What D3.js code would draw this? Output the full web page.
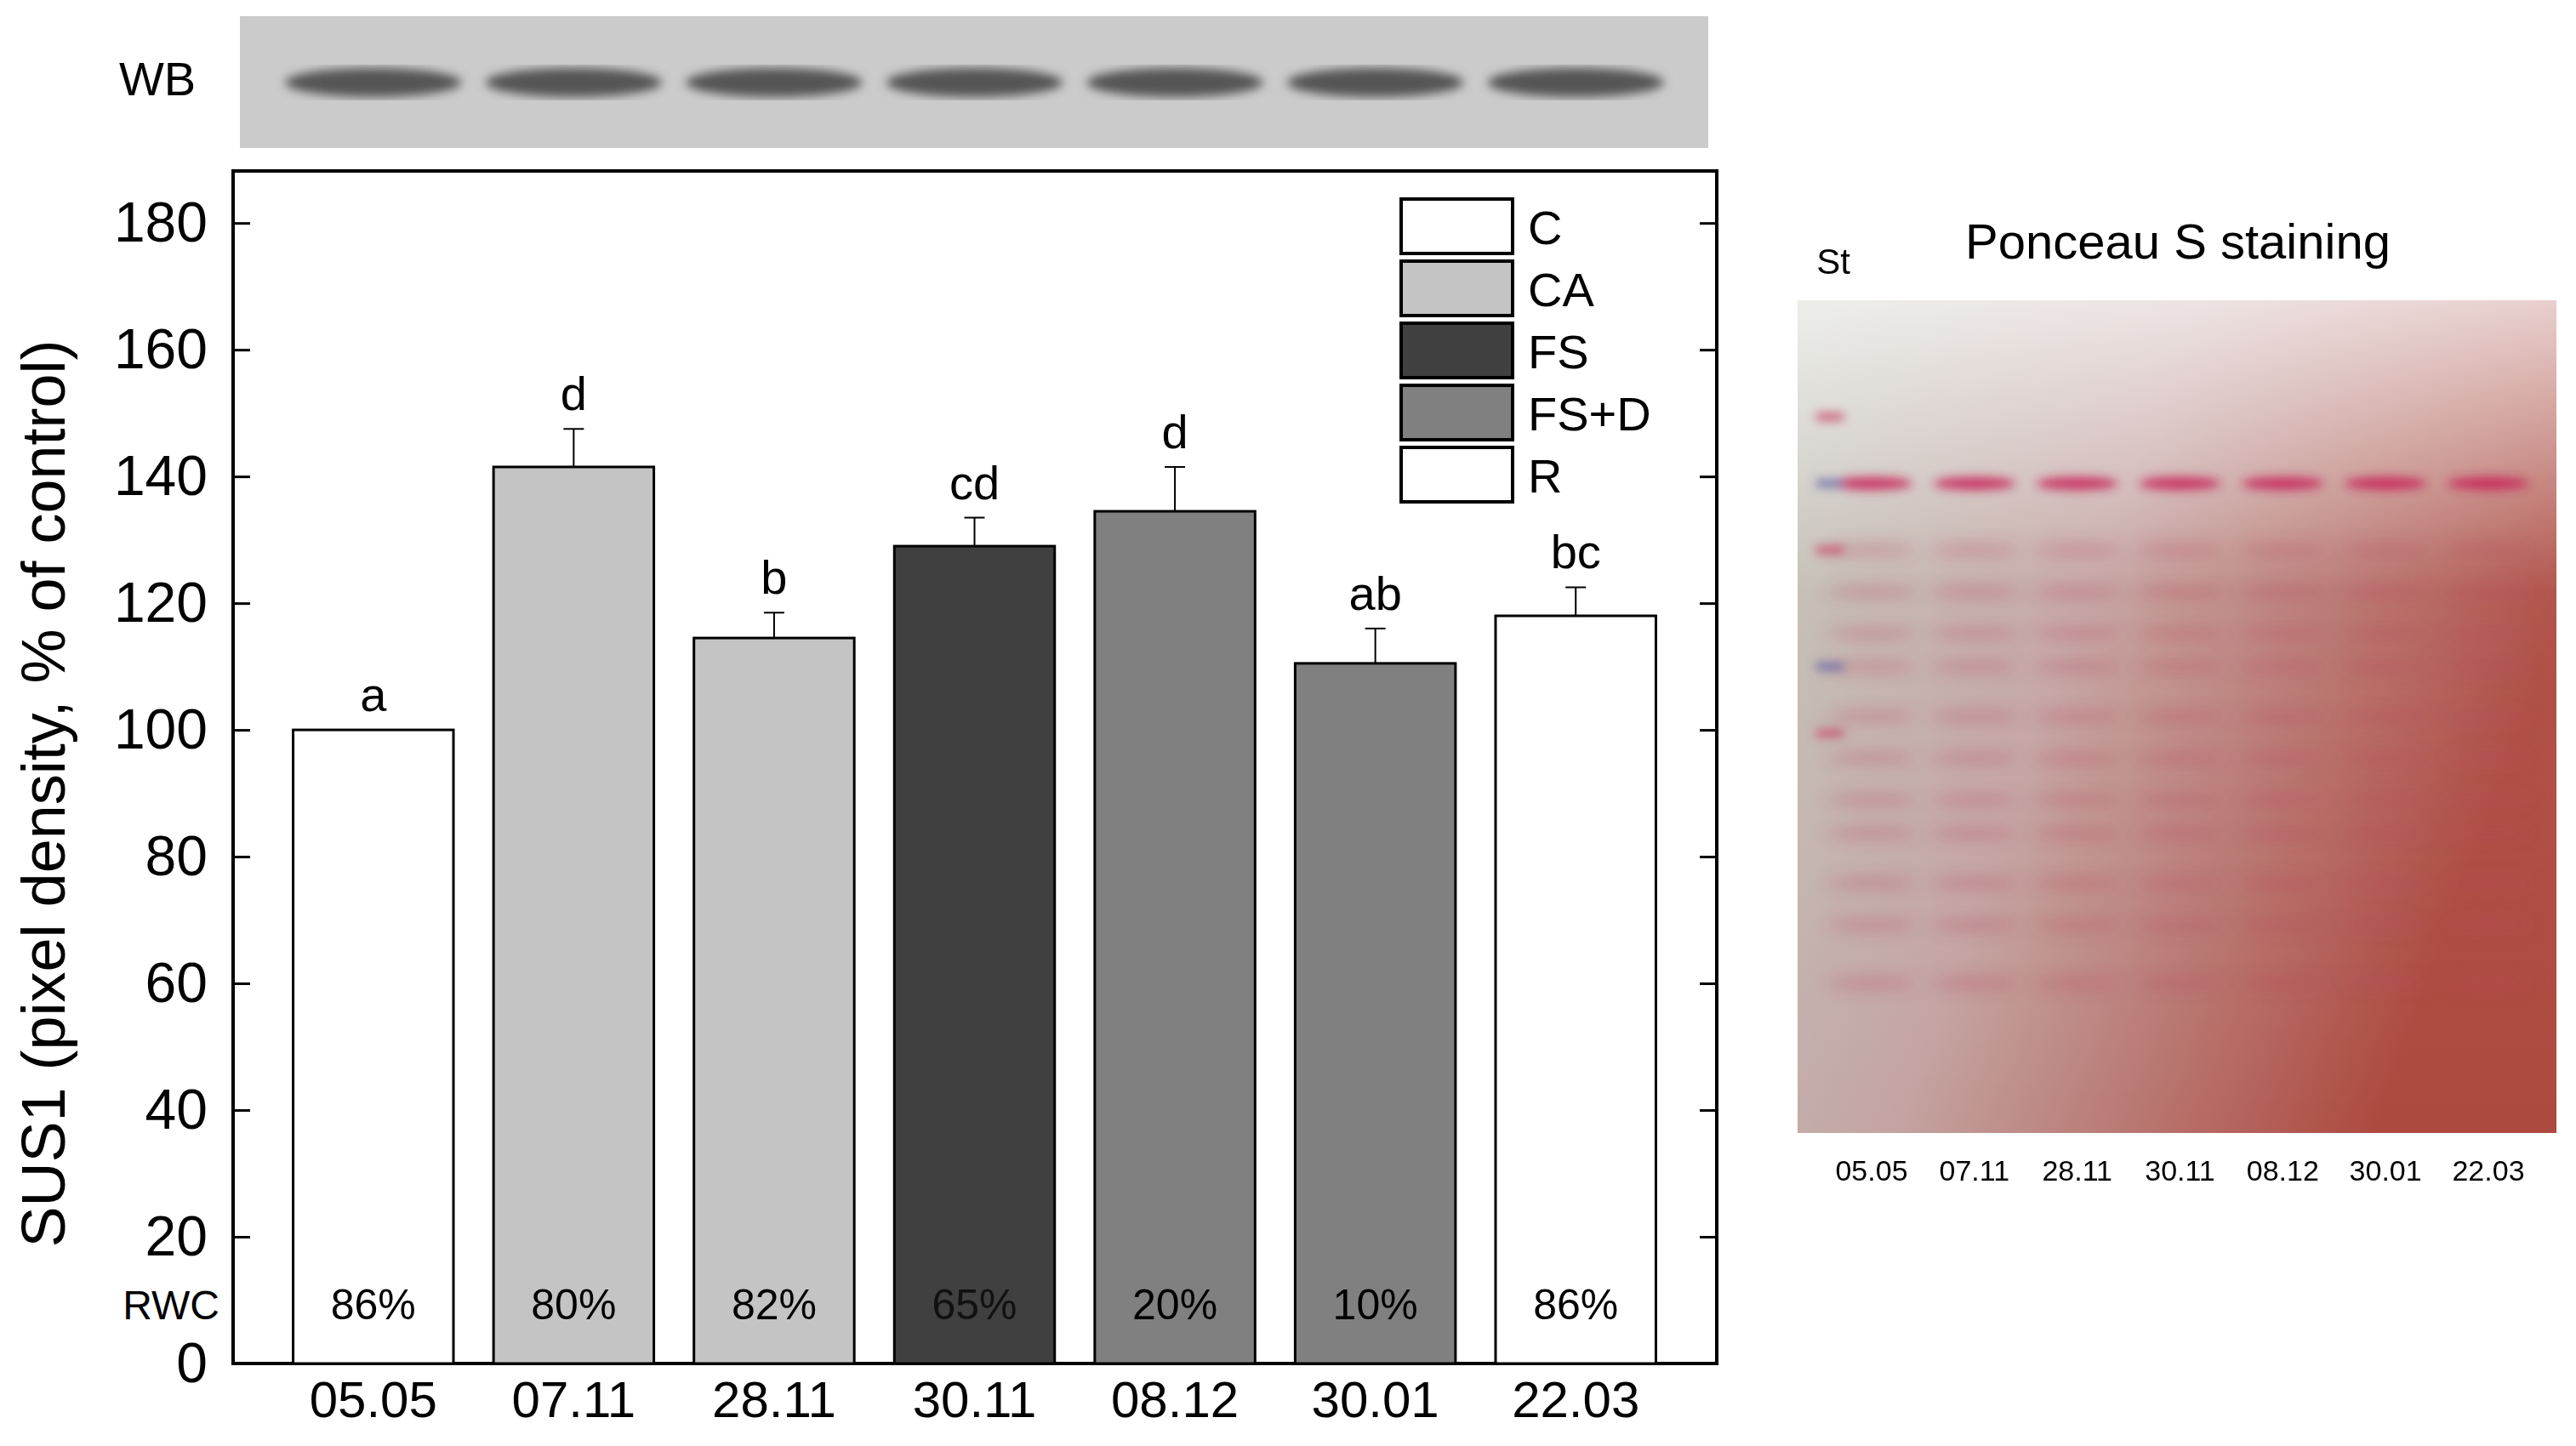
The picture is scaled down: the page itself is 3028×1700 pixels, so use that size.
<!DOCTYPE html>
<html><head><meta charset="utf-8">
<script src="https://cdn.jsdelivr.net/npm/d3@7"></script>
<style>body{margin:0;background:#fff}</style></head>
<body><svg id="c" width="3028" height="1700"></svg>
<script>
const categories = ["05.05","07.11","28.11","30.11","08.12","30.01","22.03"];
const values = [100,141.5,114.5,129,134.5,110.5,118];
const errors = [0,6,4,4.5,7,5.5,4.5];
const groups = ["C","CA","CA","FS","FS+D","FS+D","R"];
const letters = ["a","d","b","cd","d","ab","bc"];
const rwc = ["86%","80%","82%","65%","20%","10%","86%"];
const legendNames = ["C","CA","FS","FS+D","R"];
const legendColors = ["#ffffff","#c4c4c4","#404040","#808080","#ffffff"];
const yTicks = [0,20,40,60,80,100,120,140,160,180];

const svg = d3.select("#c");
const F = "Arial, 'Liberation Sans', sans-serif";
const L=274,R=2018,T=201,B=1603;
const x = d3.scaleBand().domain(categories).range([321,1970]).paddingInner(0.2).paddingOuter(0.1);
const y = d3.scaleLinear().domain([0,181.5]).range([B,T+50]);
const color = d3.scaleOrdinal().domain(legendNames).range(legendColors);
const defs = svg.append("defs");
defs.append("filter").attr("id","blur").append("feGaussianBlur").attr("stdDeviation",6);
defs.append("filter").attr("id","blur2").append("feGaussianBlur").attr("stdDeviation",9);

// WB strip
svg.append("rect").attr("x",282).attr("y",19).attr("width",1726).attr("height",155).attr("fill","#cbcbcb");
svg.append("g").attr("filter","url(#blur)").selectAll("ellipse").data(categories).join("ellipse")
 .attr("cx",d=>x(d)+x.bandwidth()/2).attr("cy",97).attr("rx",x.bandwidth()*0.55).attr("ry",17).attr("fill","#555");
svg.append("text").attr("x",185).attr("y",112).attr("text-anchor","middle").attr("font-family",F).attr("font-size",56).text("WB");

// frame
svg.append("rect").attr("x",L).attr("y",T).attr("width",R-L).attr("height",B-T).attr("fill","none").attr("stroke","#000").attr("stroke-width",4);

// bars
const bw=x.bandwidth();
svg.selectAll("rect.bar").data(categories).join("rect").attr("class","bar")
 .attr("x",d=>x(d)).attr("width",bw).attr("y",(d,i)=>y(values[i])).attr("height",(d,i)=>B-y(values[i]))
 .attr("fill",(d,i)=>color(groups[i])).attr("stroke","#000").attr("stroke-width",3);
categories.forEach((c,i)=>{ if(!errors[i]) return;
  const cx=x(c)+bw/2;
  svg.append("line").attr("x1",cx).attr("x2",cx).attr("y1",y(values[i])).attr("y2",y(values[i]+errors[i])).attr("stroke","#000").attr("stroke-width",2);
  svg.append("line").attr("x1",cx-12).attr("x2",cx+12).attr("y1",y(values[i]+errors[i])).attr("y2",y(values[i]+errors[i])).attr("stroke","#000").attr("stroke-width",2);
});
svg.selectAll("text.let").data(categories).join("text").attr("class","let")
 .attr("x",d=>x(d)+bw/2).attr("y",(d,i)=>y(values[i]+errors[i])-22).attr("text-anchor","middle")
 .attr("font-family",F).attr("font-size",56).text((d,i)=>letters[i]);
svg.selectAll("text.rwc").data(categories).join("text").attr("class","rwc")
 .attr("x",d=>x(d)+bw/2).attr("y",1551).attr("text-anchor","middle")
 .attr("font-family",F).attr("font-size",50).attr("fill",(d,i)=>groups[i]==="FS"?"#111":"#000").text((d,i)=>rwc[i]);
svg.append("text").attr("x",258).attr("y",1551).attr("text-anchor","end").attr("font-family",F).attr("font-size",48).text("RWC");

// axes
const ya = svg.append("g").attr("transform",`translate(${L},0)`).call(d3.axisLeft(y).tickValues(yTicks).tickSizeInner(-20).tickSizeOuter(0).tickPadding(30));
const yr = svg.append("g").attr("transform",`translate(${R},0)`).call(d3.axisRight(y).tickValues(yTicks).tickSizeInner(-20).tickSizeOuter(0).tickFormat(""));
[ya,yr].forEach(g=>{g.select(".domain").remove(); g.selectAll("line").attr("stroke-width",3);});
ya.selectAll("text").attr("font-family",F).attr("font-size",66).attr("fill","#000");
const xa = svg.append("g").attr("transform",`translate(0,${B})`).call(d3.axisBottom(x).tickSize(0).tickPadding(20));
xa.select(".domain").remove();
xa.selectAll("text").attr("font-family",F).attr("font-size",60).attr("fill","#000");
svg.append("text").attr("transform",`translate(76,${(T+B)/2+31}) rotate(-90)`).attr("text-anchor","middle")
 .attr("font-family",F).attr("font-size",72).text("SUS1 (pixel density, % of control)");

// legend
const lg = svg.append("g");
legendNames.forEach((n,i)=>{
  const yy=234+i*73;
  lg.append("rect").attr("x",1647).attr("y",yy).attr("width",131).attr("height",64).attr("fill",legendColors[i]).attr("stroke","#000").attr("stroke-width",4);
  lg.append("text").attr("x",1796).attr("y",yy+53).attr("font-family",F).attr("font-size",56).text(n);
});

// Ponceau gel
const gx=2113,gy=353,gw=892,gh=979;
const grad=defs.append("linearGradient").attr("id","gg").attr("x1",0).attr("x2",1).attr("y1",0).attr("y2",0.4);
grad.append("stop").attr("offset",0).attr("stop-color","#c3c6bb");
grad.append("stop").attr("offset",0.45).attr("stop-color","#c4a4a2");
grad.append("stop").attr("offset",1).attr("stop-color","#ad4a40");
const vg=defs.append("linearGradient").attr("id","vg").attr("x1",0).attr("x2",0).attr("y1",0).attr("y2",1);
vg.append("stop").attr("offset",0).attr("stop-color","#fff").attr("stop-opacity",0.7);
vg.append("stop").attr("offset",0.35).attr("stop-color","#fff").attr("stop-opacity",0.05);
vg.append("stop").attr("offset",1).attr("stop-color","#fff").attr("stop-opacity",0);
svg.append("rect").attr("x",gx).attr("y",gy).attr("width",gw).attr("height",gh).attr("fill","url(#gg)");
svg.append("rect").attr("x",gx).attr("y",gy).attr("width",gw).attr("height",gh).attr("fill","url(#vg)");
const lx = d3.scalePoint().domain(categories).range([2200,2925]);
const gband=svg.append("g").attr("filter","url(#blur2)");
const bandY=[0.3,0.35,0.4,0.44,0.5,0.55,0.6,0.64,0.7,0.75,0.82];
categories.forEach(c=>{
  bandY.forEach(b=>gband.append("ellipse").attr("cx",lx(c)).attr("cy",gy+b*gh).attr("rx",52).attr("ry",8).attr("fill","#b84a60").attr("opacity",0.3));
});
const g1=svg.append("g").attr("filter","url(#blur)");
categories.forEach(c=>g1.append("ellipse").attr("cx",lx(c)).attr("cy",gy+0.22*gh).attr("rx",48).attr("ry",8).attr("fill","#c8245a").attr("opacity",0.85));
[0.14,0.22,0.3,0.44,0.52].forEach((b,i)=>g1.append("rect").attr("x",2135).attr("y",gy+b*gh-4).attr("width",32).attr("height",8).attr("fill",i%2?"#6a6aa8":"#c8506a"));
svg.append("text").attr("x",2560).attr("y",304).attr("text-anchor","middle").attr("font-family",F).attr("font-size",58).text("Ponceau S staining");
svg.append("text").attr("x",2155).attr("y",322).attr("text-anchor","middle").attr("font-family",F).attr("font-size",42).text("St");
svg.selectAll("text.pl").data(categories).join("text").attr("class","pl").attr("x",d=>lx(d)).attr("y",1388)
 .attr("text-anchor","middle").attr("font-family",F).attr("font-size",34).text(d=>d);
</script></body></html>
